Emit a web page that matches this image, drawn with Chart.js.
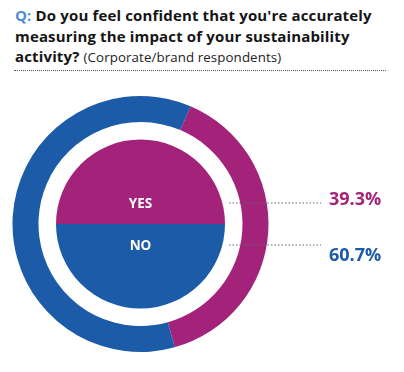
<!DOCTYPE html>
<html>
<head>
<meta charset="utf-8">
<script src="https://cdn.jsdelivr.net/npm/chart.js@4.4.1/dist/chart.umd.min.js"></script>
<style>
  html, body { margin: 0; padding: 0; background: #fff; }
  #wrap { position: relative; width: 404px; height: 372px; overflow: hidden; }
  #titulo {
    position: absolute; left: 15px; top: 5px; width: 385px;
    font-family: "Open Sans", sans-serif; font-weight: 700; font-size: 15px;
    letter-spacing: 0.15px; line-height: 20.5px; color: #151515;
  }
  #titulo .q { color: #4a8fd6; }
  #titulo .sub { font-weight: 400; font-size: 13.3px; letter-spacing: 0.1px; color: #222; }
  #linha {
    position: absolute; left: 14px; top: 70px; width: 372px; height: 0;
    border-top: 1.5px dotted #555;
  }
  canvas { position: absolute; left: 0; top: 0; }
</style>
</head>
<body>
<div id="wrap">
  <div id="titulo"><span class="q">Q:</span> Do you feel confident that you're accurately measuring the impact of your sustainability activity? <span class="sub">(Corporate/brand respondents)</span></div>
  <div id="linha"></div>
  <canvas id="grafico" width="404" height="372"></canvas>
</div>
<script>
const respostas = ["YES", "NO"];
const percentuais = [39.3, 60.7];
const metades = [50, 50];
const cores = ["#a3237a", "#1c5ba8"];

// rótulos do meio, linhas pontilhadas e percentuais
const rotulosPlugin = {
  id: "rotulos",
  afterDatasetsDraw(chart) {
    const ctx = chart.ctx;
    const inner = chart.getDatasetMeta(2).data;
    const cx = inner[0].x, cy = inner[0].y;
    const yLabel = [cy - 20, cy + 22];
    const yLinha = [cy - 21, cy + 21];
    const yPct = [cy - 24, cy + 32];
    ctx.save();
    respostas.forEach((r, i) => {
      ctx.fillStyle = "#fff";
      ctx.font = "bold 13.5px 'Open Sans', sans-serif";
      ctx.textAlign = "center";
      ctx.textBaseline = "middle";
      ctx.fillText(r, cx, yLabel[i]);

      ctx.strokeStyle = "#666";
      ctx.lineWidth = 1.2;
      ctx.setLineDash([1.5, 2]);
      ctx.beginPath();
      ctx.moveTo(229, yLinha[i]);
      ctx.lineTo(321, yLinha[i]);
      ctx.stroke();
      ctx.setLineDash([]);

      ctx.fillStyle = cores[i];
      ctx.font = "bold 18px 'Open Sans', sans-serif";
      ctx.textAlign = "left";
      ctx.fillText(percentuais[i].toFixed(1) + "%", 329, yPct[i]);
    });
    ctx.restore();
  }
};

new Chart(document.getElementById("grafico").getContext("2d"), {
  type: "doughnut",
  data: {
    labels: respostas,
    datasets: [
      {
        data: percentuais,
        backgroundColor: cores,
        borderWidth: 0,
        weight: 26,
        rotation: 23
      },
      {
        data: [1],
        backgroundColor: ["rgba(0,0,0,0)"],
        borderWidth: 0,
        weight: 17.5
      },
      {
        data: metades,
        backgroundColor: cores,
        borderWidth: 0,
        weight: 84.5,
        rotation: -90
      }
    ]
  },
  options: {
    responsive: false,
    animation: false,
    events: [],
    cutout: 0,
    layout: { padding: { top: 96, left: 12.5, right: 135.5, bottom: 20 } },
    plugins: {
      legend: { display: false },
      tooltip: { enabled: false }
    }
  },
  plugins: [rotulosPlugin]
});
</script>
</body>
</html>
